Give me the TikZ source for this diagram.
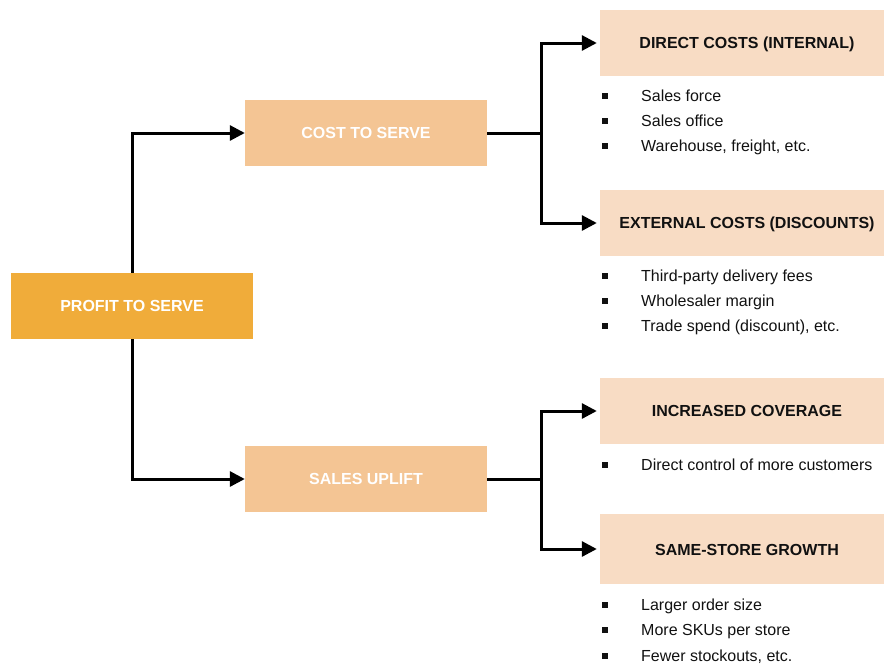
\documentclass[tikz,border=0pt]{standalone}
\usepackage{fontspec}
\setmainfont{Liberation Sans}
\usetikzlibrary{arrows.meta}
\definecolor{rootfill}{HTML}{F0AC3A}
\definecolor{midfill}{HTML}{F4C594}
\definecolor{leaffill}{HTML}{F8DCC4}
\definecolor{inkdark}{HTML}{111111}
\tikzset{
  px/.style={x=1pt,y=-1pt},
  boxfont/.style={font=\fontsize{16}{18}\selectfont\bfseries},
  rootbox/.style={fill=rootfill,minimum width=242pt,minimum height=66pt,inner sep=0pt,
    text=white,boxfont},
  midbox/.style={fill=midfill,minimum width=242pt,minimum height=66pt,inner sep=0pt,
    text=white,boxfont},
  leafbox/.style={fill=leaffill,minimum width=284pt,minimum height=66pt,inner sep=0pt},
  leaflabel/.style={text=inkdark,boxfont,inner sep=0pt},
  item/.style={anchor=base west,inner sep=0pt,text=inkdark,font=\fontsize{16}{18}\selectfont},
  bullet/.style={fill=inkdark,minimum size=5.5pt,inner sep=0pt},
  link/.style={line width=3pt,draw=black},
  arrowlink/.style={link,-{Triangle[length=15pt,width=15pt]}},
}
\begin{document}
\begin{tikzpicture}[px]
\useasboundingbox (0,0) rectangle (884,664);

% boxes
\node[rootbox] (profit) at (132,306) {PROFIT TO SERVE};
\node[midbox] (cost) at (366,133) {COST TO SERVE};
\node[midbox] (sales) at (366,479) {SALES UPLIFT};
\node[leafbox] (direct) at (742,43) {};
\node[leafbox] (external) at (742,223) {};
\node[leafbox] (coverage) at (742,411) {};
\node[leafbox,minimum height=70pt] (growth) at (742,549) {};

% leaf headings, set a little right of the box centre
\node[leaflabel] (directlabel) at (747,44) {DIRECT COSTS (INTERNAL)};
\node[leaflabel] (externallabel) at (747,224) {EXTERNAL COSTS (DISCOUNTS)};
\node[leaflabel] (coveragelabel) at (747,411) {INCREASED COVERAGE};
\node[leaflabel] (growthlabel) at (747,550) {SAME-STORE GROWTH};

% branching points
\coordinate (costfork) at (541,133);
\coordinate (salesfork) at (541,479);

% connectors
\draw[arrowlink] (profit.north) |- (cost.west);
\draw[arrowlink] (profit.south) |- (sales.west);
\draw[link] (cost.east) -- (costfork);
\draw[arrowlink] (costfork) |- ([xshift=-3pt]direct.west);
\draw[arrowlink] (costfork) |- ([xshift=-3pt]external.west);
\draw[link] (sales.east) -- (salesfork);
\draw[arrowlink] (salesfork) |- ([xshift=-3pt]coverage.west);
\draw[arrowlink] (salesfork) |- ([xshift=-3pt]growth.west);

% bullet lists
\foreach \y/\t [count=\i] in {96/Sales force,121/Sales office,146/{Warehouse, freight, etc.},
  276/Third-party delivery fees,301/Wholesaler margin,326/{Trade spend (discount), etc.},
  465/Direct control of more customers,
  605/Larger order size,630/More SKUs per store,656/{Fewer stockouts, etc.}}{
  \node[bullet] (b\i) at (605,\y) {};
  \node[item] (t\i) at (641,\y+5.5) {\t};
}
\end{tikzpicture}
\end{document}
